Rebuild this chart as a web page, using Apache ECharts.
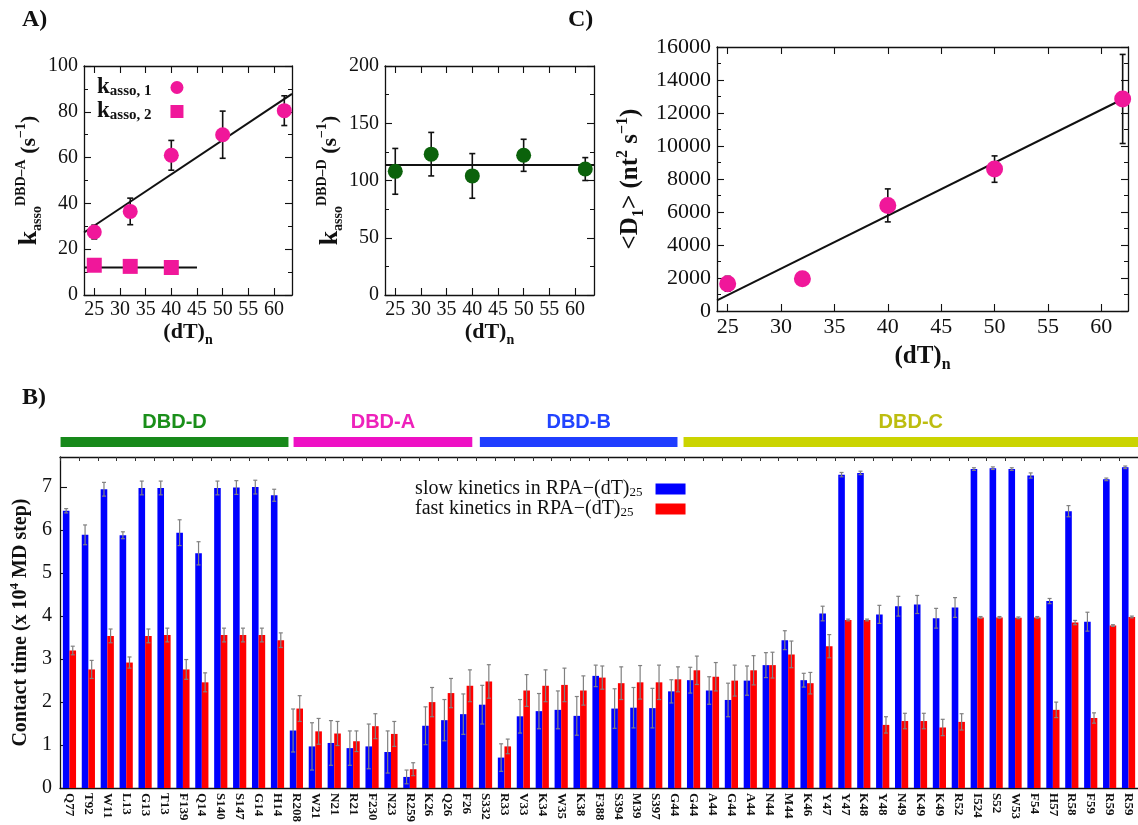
<!DOCTYPE html>
<html>
<head>
<meta charset="utf-8">
<title>RPA DBD kinetics</title>
<script src="https://cdn.jsdelivr.net/npm/echarts@6/dist/echarts.min.js"></script>
<style>
  html, body { margin: 0; padding: 0; background: #fff; }
  #chart { width: 1138px; height: 825px; }
</style>
</head>
<body>
<div id="chart"></div>
<script>
// ---- panel A, left: DBD-A association rates vs ssDNA length
const lengths = [25, 32, 40, 50, 62]
const kasso1 = [27.5, 36.5, 61, 70, 80.5]
const kasso1Err = [3, 5.8, 6.5, 10.3, 6.5]
const kasso2Lengths = [25, 32, 40]
const kasso2 = [13, 12.5, 12]
const kasso1Fit = [[23, 27.3], [63.5, 87.8]]
const kasso2Fit = [[23, 12], [45, 12]]

// ---- panel A, right: DBD-D
const kassoD = [108, 123, 104, 122, 110]
const kassoDErr = [20, 19, 19.5, 14, 10]
const kassoDFit = [[23, 113.5], [63.7, 113.5]]

// ---- panel C: diffusion coefficient
const diffusion = [1650, 1950, 6400, 8600, 12850]
const diffusionErr = [450, 250, 1000, 800, 2700]
const diffusionFit = [[24, 650], [62.5, 13000]]

// ---- panel B: contact time per residue (x 10^4 MD steps)
const residues = ['Q77', 'T92', 'W11', 'L13', 'G13', 'T13', 'F139', 'Q14', 'S140', 'S147', 'G14', 'H14',
  'R208', 'W21', 'N21', 'R21', 'F230', 'N23', 'R259', 'K26', 'Q26', 'F26',
  'S332', 'R33', 'V33', 'K34', 'W35', 'K38', 'F388', 'S394', 'M39', 'S397',
  'G44', 'G44', 'A44', 'G44', 'A44', 'N44', 'M44', 'K46', 'Y47', 'Y47', 'K48', 'Y48', 'N49',
  'K49', 'K49', 'R52', 'I524', 'S52', 'W53', 'F54', 'H57', 'R58', 'F59', 'R59', 'R59']
const slowTime = [6.45, 5.89, 6.95, 5.88, 6.98, 6.98, 5.94, 5.46, 6.98, 6.99, 7.0, 6.81,
  1.34, 0.97, 1.05, 0.93, 0.97, 0.84, 0.26, 1.45, 1.58, 1.72,
  1.94, 0.71, 1.67, 1.79, 1.82, 1.68, 2.61, 1.85, 1.87, 1.86,
  2.25, 2.51, 2.27, 2.05, 2.50, 2.86, 3.44, 2.51, 4.06, 7.29, 7.33, 4.04, 4.23,
  4.27, 3.95, 4.20, 7.42, 7.44, 7.42, 7.27, 4.35, 6.44, 3.87, 7.18, 7.46]
const slowErr = [0.05, 0.23, 0.16, 0.08, 0.16, 0.16, 0.3, 0.27, 0.16, 0.16, 0.16, 0.14,
  0.5, 0.55, 0.52, 0.4, 0.52, 0.49, 0.16, 0.44, 0.48, 0.47,
  0.45, 0.32, 0.39, 0.41, 0.44, 0.45, 0.25, 0.46, 0.47, 0.46,
  0.27, 0.3, 0.32, 0.39, 0.34, 0.29, 0.22, 0.16, 0.17, 0.05, 0.04, 0.21, 0.23,
  0.21, 0.23, 0.23, 0.03, 0.03, 0.03, 0.06, 0.06, 0.13, 0.22, 0.03, 0.03]
const fastTime = [3.2, 2.76, 3.54, 2.92, 3.54, 3.56, 2.76, 2.46, 3.56, 3.56, 3.56, 3.44,
  1.85, 1.32, 1.27, 1.09, 1.44, 1.26, 0.44, 2.0, 2.21, 2.38,
  2.48, 0.97, 2.27, 2.38, 2.40, 2.27, 2.57, 2.44, 2.46, 2.46,
  2.53, 2.74, 2.59, 2.50, 2.74, 2.86, 3.11, 2.44, 3.30, 3.91, 3.91, 1.47, 1.56,
  1.56, 1.41, 1.54, 3.97, 3.97, 3.96, 3.97, 1.82, 3.85, 1.63, 3.78, 3.98]
const fastErr = [0.1, 0.21, 0.16, 0.13, 0.16, 0.16, 0.23, 0.22, 0.16, 0.16, 0.16, 0.17,
  0.3, 0.3, 0.28, 0.24, 0.29, 0.29, 0.15, 0.34, 0.34, 0.37,
  0.39, 0.17, 0.37, 0.37, 0.39, 0.34, 0.27, 0.38, 0.39, 0.4,
  0.29, 0.33, 0.33, 0.36, 0.34, 0.3, 0.31, 0.25, 0.27, 0.02, 0.02, 0.19, 0.18,
  0.18, 0.19, 0.19, 0.02, 0.02, 0.02, 0.02, 0.18, 0.05, 0.12, 0.02, 0.02]
// domain spans, in category units along the residue axis
const domainNames = ['DBD-D', 'DBD-A', 'DBD-B', 'DBD-C']
const domainFrom = [0.03, 12.35, 22.2, 32.97]
const domainTo = [12.08, 21.8, 32.65, 57]
const domainColors = ['#17891a', '#ee10c4', '#1f3dff', '#cbd400']
const domainText = ['#1a8f1a', '#ee22bb', '#2244ff', '#bdbd10']

const serif = '"Liberation Serif", "DejaVu Serif", serif'
const sans = '"Liberation Sans", Arial, sans-serif'
const pink = '#f0179a'
const green = '#0b620b'

const axisLine = { show: true, onZero: false, lineStyle: { color: '#111', width: 1.3 } }
const tickIn = { show: true, inside: true, length: 7, lineStyle: { color: '#111', width: 1.1 } }
const minorIn = { show: true, splitNumber: 2, length: 4, lineStyle: { color: '#111', width: 1 } }
const richName = {
  b: { fontFamily: serif, fontWeight: 'bold', fontSize: 22, lineHeight: 30, color: '#111' },
  k: { fontFamily: serif, fontWeight: 'bold', fontSize: 26, lineHeight: 30, color: '#111' },
  sub: { fontFamily: serif, fontWeight: 'bold', fontSize: 14, lineHeight: 16, verticalAlign: 'bottom', color: '#111' },
  sup: { fontFamily: serif, fontWeight: 'bold', fontSize: 14, lineHeight: 16, verticalAlign: 'top', color: '#111' }
}
const richBig = {
  b: { fontFamily: serif, fontWeight: 'bold', fontSize: 25, lineHeight: 32, color: '#111' },
  sub: { fontFamily: serif, fontWeight: 'bold', fontSize: 16, lineHeight: 16, verticalAlign: 'bottom', color: '#111' },
  sup: { fontFamily: serif, fontWeight: 'bold', fontSize: 16, lineHeight: 16, verticalAlign: 'top', color: '#111' }
}
const dtName = '{b|(dT)}{sub|n}'
const lenTicks = [25, 30, 35, 40, 45, 50, 55, 60]

function xPair(grid, min, max, fontSize, nameGap, rich) {
  return [{
    type: 'value', gridIndex: grid, position: 'bottom', min: min, max: max,
    axisLine: axisLine,
    axisTick: Object.assign({}, tickIn, { customValues: lenTicks }),
    axisLabel: { customValues: lenTicks, fontFamily: serif, fontSize: fontSize, color: '#111', margin: 5 },
    splitLine: { show: false },
    name: dtName, nameLocation: 'middle', nameGap: nameGap,
    nameTextStyle: { rich: rich }
  }, {
    type: 'value', gridIndex: grid, position: 'top', min: min, max: max,
    axisLine: axisLine,
    axisTick: Object.assign({}, tickIn, { customValues: lenTicks }),
    axisLabel: { show: false }, splitLine: { show: false }
  }]
}

function yPair(grid, max, interval, fontSize, name, nameGap, rich) {
  return [{
    type: 'value', gridIndex: grid, position: 'left', min: 0, max: max, interval: interval,
    axisLine: axisLine, axisTick: tickIn, minorTick: minorIn,
    axisLabel: { fontFamily: serif, fontSize: fontSize, color: '#111', margin: 6, formatter: v => String(v) },
    splitLine: { show: false },
    name: name, nameLocation: 'middle', nameGap: nameGap, nameRotate: 90,
    nameTextStyle: { rich: rich }
  }, {
    type: 'value', gridIndex: grid, position: 'right', min: 0, max: max, interval: interval,
    axisLine: axisLine, axisTick: tickIn, minorTick: minorIn,
    axisLabel: { show: false }, splitLine: { show: false }
  }]
}

// vertical error bar with caps, shifted by dx pixels
function errorBar(color, cap, width, dx) {
  return function (params, api) {
    const x = api.value(0)
    const y = api.value(1)
    const e = api.value(2)
    const hi = api.coord([x, y + e])
    const lo = api.coord([x, y - e])
    const cx = hi[0] + dx
    const style = { stroke: color, lineWidth: width }
    return {
      type: 'group',
      children: [
        { type: 'line', shape: { x1: cx, y1: hi[1], x2: cx, y2: lo[1] }, style: style },
        { type: 'line', shape: { x1: cx - cap, y1: hi[1], x2: cx + cap, y2: hi[1] }, style: style },
        { type: 'line', shape: { x1: cx - cap, y1: lo[1], x2: cx + cap, y2: lo[1] }, style: style }
      ]
    }
  }
}

function withErr(xs, ys, es) {
  return ys.map((v, i) => [xs[i], v, es[i]])
}

const chart = echarts.init(document.getElementById('chart'))

const xAxes = [].concat(
  xPair(0, 23, 63.5, 20, 22, richName),
  xPair(1, 23, 63.7, 20, 22, richName),
  xPair(2, 24, 62.5, 22, 30, richBig),
  [{
    type: 'category', gridIndex: 3, position: 'bottom', data: residues,
    axisLine: axisLine,
    axisTick: { show: false },
    axisLabel: { interval: 0, rotate: -90, fontFamily: serif, fontWeight: 'bold', fontSize: 13, color: '#111', margin: 5 }
  }, {
    type: 'category', gridIndex: 3, position: 'top', data: residues,
    axisLine: axisLine,
    axisTick: { show: true, inside: true, length: 4, interval: 0, lineStyle: { color: '#333' } },
    axisLabel: { show: false }
  }, {
    type: 'value', gridIndex: 3, min: 0, max: 57, show: false
  }]
)

const yAxes = [].concat(
  yPair(0, 100, 20, 20, '{k|k}{sub|asso}{sup|DBD–A}{b| (s}{sup|−1}{b|)}', 37, richName),
  yPair(1, 200, 50, 20, '{k|k}{sub|asso}{sup|DBD–D}{b| (s}{sup|−1}{b|)}', 40, richName),
  yPair(2, 16000, 2000, 22, '{b|<D}{sub|1}{b|> (nt}{sup|2}{b| s}{sup|−1}{b|)}', 70, richBig),
  [{
    type: 'value', gridIndex: 3, min: 0, max: 7.7, interval: 1,
    axisLine: axisLine, axisTick: tickIn,
    axisLabel: { fontFamily: serif, fontSize: 20, color: '#111', margin: 8, showMaxLabel: false },
    splitLine: { show: false },
    name: '{b|Contact time (x 10}{sup|4}{b| MD step)}', nameLocation: 'middle', nameGap: 26, nameRotate: 90,
    nameTextStyle: { rich: {
      b: { fontFamily: serif, fontWeight: 'bold', fontSize: 20, lineHeight: 26, color: '#111' },
      sup: { fontFamily: serif, fontWeight: 'bold', fontSize: 13, lineHeight: 14, verticalAlign: 'top', color: '#111' }
    } }
  }]
)

const X_B = 6, Y_B = 6
const legendRich = {
  t: { fontFamily: serif, fontSize: 20, lineHeight: 20, color: '#111' },
  s1: { fontFamily: serif, fontSize: 13, lineHeight: 12, verticalAlign: 'bottom', color: '#111', padding: [0, 8, 0, 0] },
  s2: { fontFamily: serif, fontSize: 13, lineHeight: 12, verticalAlign: 'bottom', color: '#111', padding: [0, 17, 0, 0] }
}

chart.setOption({
  animation: false,
  backgroundColor: '#fff',
  grid: [
    { left: 84, top: 66, width: 208, height: 229 },
    { left: 385, top: 66, width: 209, height: 229 },
    { left: 717, top: 47, width: 411, height: 264 },
    { left: 60, top: 457, width: 1078, height: 335 }
  ],
  xAxis: xAxes,
  yAxis: yAxes,
  legend: [{
    data: [{ name: 'kasso1', icon: 'circle' }, { name: 'kasso2', icon: 'rect' }],
    left: 92, top: 71, orient: 'vertical', align: 'right',
    itemWidth: 13, itemHeight: 13, itemGap: 1,
    formatter: n => n === 'kasso1' ? '{k|k}{s|asso, 1}' : '{k|k}{s|asso, 2}',
    textStyle: { rich: {
      k: { fontFamily: serif, fontWeight: 'bold', fontSize: 23, lineHeight: 22, color: '#111' },
      s: { fontFamily: serif, fontWeight: 'bold', fontSize: 15, lineHeight: 14, verticalAlign: 'bottom', color: '#111', padding: [0, 14, 0, 0] }
    } }
  }, {
    data: [{ name: 'slow', icon: 'rect' }, { name: 'fast', icon: 'rect' }],
    left: 410, top: 474, orient: 'vertical', align: 'right',
    itemWidth: 30, itemHeight: 11, itemGap: 0,
    formatter: n => '{t|' + n + ' kinetics in RPA−(dT)}' + (n === 'slow' ? '{s1|25}' : '{s2|25}'),
    textStyle: { rich: legendRich }
  }],
  graphic: [
    { type: 'text', left: 22, top: 8, style: { text: 'A)', font: 'bold 24px ' + serif, fill: '#111' } },
    { type: 'text', left: 22, top: 386, style: { text: 'B)', font: 'bold 24px ' + serif, fill: '#111' } },
    { type: 'text', left: 568, top: 8, style: { text: 'C)', font: 'bold 24px ' + serif, fill: '#111' } }
  ],
  series: [
    // panel A left
    { type: 'line', xAxisIndex: 0, yAxisIndex: 0, data: kasso1Fit, symbol: 'none', lineStyle: { color: '#111', width: 2 }, z: 2 },
    { type: 'line', xAxisIndex: 0, yAxisIndex: 0, data: kasso2Fit, symbol: 'none', lineStyle: { color: '#111', width: 2 }, z: 2 },
    { type: 'custom', xAxisIndex: 0, yAxisIndex: 0, data: withErr(lengths, kasso1, kasso1Err), renderItem: errorBar('#111', 3, 1.6, 0), z: 3 },
    { type: 'scatter', name: 'kasso1', xAxisIndex: 0, yAxisIndex: 0, data: lengths.map((x, i) => [x, kasso1[i]]), symbol: 'circle', symbolSize: 15, itemStyle: { color: pink, opacity: 1 }, z: 4 },
    { type: 'scatter', name: 'kasso2', xAxisIndex: 0, yAxisIndex: 0, data: kasso2Lengths.map((x, i) => [x, kasso2[i]]), symbol: 'rect', symbolSize: 15, itemStyle: { color: pink, opacity: 1 }, z: 4 },
    // panel A right
    { type: 'line', xAxisIndex: 2, yAxisIndex: 2, data: kassoDFit, symbol: 'none', lineStyle: { color: '#111', width: 2 }, z: 2 },
    { type: 'custom', xAxisIndex: 2, yAxisIndex: 2, data: withErr(lengths, kassoD, kassoDErr), renderItem: errorBar('#111', 3, 1.6, 0), z: 3 },
    { type: 'scatter', xAxisIndex: 2, yAxisIndex: 2, data: lengths.map((x, i) => [x, kassoD[i]]), symbolSize: 15, itemStyle: { color: green, opacity: 1 }, z: 4 },
    // panel C
    { type: 'line', xAxisIndex: 4, yAxisIndex: 4, data: diffusionFit, symbol: 'none', lineStyle: { color: '#111', width: 2 }, z: 2 },
    { type: 'custom', xAxisIndex: 4, yAxisIndex: 4, data: withErr(lengths, diffusion, diffusionErr), renderItem: errorBar('#111', 3, 1.6, 0), z: 3 },
    { type: 'scatter', xAxisIndex: 4, yAxisIndex: 4, data: lengths.map((x, i) => [x, diffusion[i]]), symbolSize: 17, itemStyle: { color: pink, opacity: 1 }, z: 4 },
    // panel B
    { type: 'bar', name: 'slow', xAxisIndex: X_B, yAxisIndex: Y_B, data: slowTime, barWidth: 6.6, barGap: '0%', itemStyle: { color: '#0000ff' } },
    { type: 'bar', name: 'fast', xAxisIndex: X_B, yAxisIndex: Y_B, data: fastTime, barWidth: 6.6, barGap: '0%', itemStyle: { color: '#ff0000' } },
    { type: 'custom', xAxisIndex: X_B, yAxisIndex: Y_B, data: withErr(residues.map((r, i) => i), slowTime, slowErr), renderItem: errorBar('#808080', 2, 1.2, -3.3), z: 5 },
    { type: 'custom', xAxisIndex: X_B, yAxisIndex: Y_B, data: withErr(residues.map((r, i) => i), fastTime, fastErr), renderItem: errorBar('#808080', 2, 1.2, 3.3), z: 5 },
    {
      type: 'custom', xAxisIndex: 8, yAxisIndex: Y_B, clip: false, silent: true,
      data: domainFrom.map((f, i) => [f, domainTo[i]]),
      renderItem: function (params, api) {
        const i = params.dataIndex
        const a = api.coord([api.value(0), 0])
        const b = api.coord([api.value(1), 0])
        const top = params.coordSys.y
        return {
          type: 'group',
          children: [
            { type: 'rect', shape: { x: a[0], y: top - 20, width: b[0] - a[0], height: 10 }, style: { fill: domainColors[i] } },
            { type: 'text', style: { text: domainNames[i], x: (a[0] + b[0]) / 2, y: top - 35, align: 'center', verticalAlign: 'middle', font: 'bold 20px ' + sans, fill: domainText[i] } }
          ]
        }
      }
    }
  ]
})
</script>
</body>
</html>
